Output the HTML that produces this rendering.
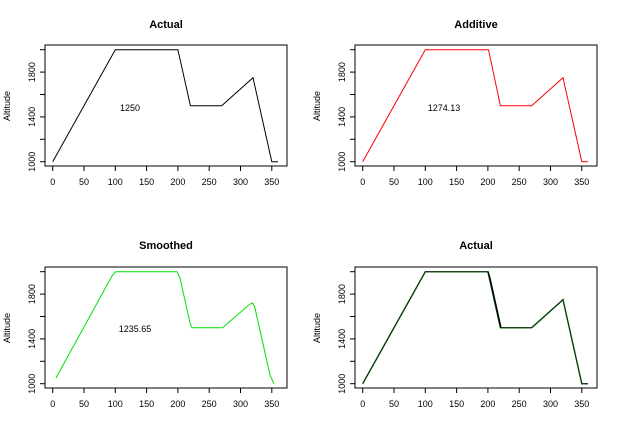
<!DOCTYPE html>
<html><head><meta charset="utf-8"><style>html,body{margin:0;padding:0;background:#fff}svg{display:block}text{font-family:"Liberation Sans",sans-serif;fill:#000}</style></head><body>
<svg width="620" height="444" viewBox="0 0 620 444" xmlns="http://www.w3.org/2000/svg">
<defs>
<g id="axes">
<rect x="45" y="45" width="242" height="121" fill="none" stroke="#000" stroke-width="1"/>
<g stroke="#000" stroke-width="1">
<line x1="52.7" y1="166" x2="52.7" y2="171"/><line x1="84" y1="166" x2="84" y2="171"/><line x1="115.3" y1="166" x2="115.3" y2="171"/><line x1="146.6" y1="166" x2="146.6" y2="171"/><line x1="177.9" y1="166" x2="177.9" y2="171"/><line x1="209.2" y1="166" x2="209.2" y2="171"/><line x1="240.5" y1="166" x2="240.5" y2="171"/><line x1="271.8" y1="166" x2="271.8" y2="171"/>
<line x1="40" y1="161.7" x2="45" y2="161.7"/><line x1="40" y1="139.3" x2="45" y2="139.3"/><line x1="40" y1="116.9" x2="45" y2="116.9"/><line x1="40" y1="94.5" x2="45" y2="94.5"/><line x1="40" y1="72.1" x2="45" y2="72.1"/><line x1="40" y1="49.7" x2="45" y2="49.7"/>
</g>
<g font-size="9" text-anchor="middle">
<text x="52.7" y="185">0</text><text x="84" y="185">50</text><text x="115.3" y="185">100</text><text x="146.6" y="185">150</text><text x="177.9" y="185">200</text><text x="209.2" y="185">250</text><text x="240.5" y="185">300</text><text x="271.8" y="185">350</text>
<text transform="translate(35,161.7) rotate(-90)">1000</text>
<text transform="translate(35,116.9) rotate(-90)">1400</text>
<text transform="translate(35,72.1) rotate(-90)">1800</text>
<text transform="translate(10,106) rotate(-90)">Altitude</text>
</g>
</g>
</defs>
<!-- TL -->
<g>
<use href="#axes"/>
<text x="166" y="28" font-size="11" font-weight="bold" text-anchor="middle">Actual</text>
<polyline fill="none" stroke="#000" stroke-width="1" points="52.7,161.7 115.3,49.7 177.9,49.7 190.4,105.7 221.7,105.7 253,77.7 271.8,161.7 278,161.7"/>
<text x="130" y="111" font-size="9" text-anchor="middle">1250</text>
</g>
<!-- TR -->
<g transform="translate(310,0)">
<use href="#axes"/>
<text x="166" y="28" font-size="11" font-weight="bold" text-anchor="middle">Additive</text>
<polyline fill="none" stroke="#f00" stroke-width="1" points="52.7,161.7 115.3,49.7 178.5,49.7 190.4,105.7 221.7,105.7 253,77.7 271.8,161.7 278,161.7"/>
<text x="134" y="111" font-size="9" text-anchor="middle">1274.13</text>
</g>
<!-- BL -->
<g transform="translate(0,222)">
<use href="#axes"/>
<text x="166" y="27" font-size="11" font-weight="bold" text-anchor="middle">Smoothed</text>
<polyline fill="none" stroke="#00e000" stroke-width="1" points="56,156 112,54 115.5,49.7 177,49.7 180,56 190,101 192,105.7 222.5,105.7 250,82 252.5,81 254.5,84 270,153 274,161.7"/>
<text x="135" y="110" font-size="9" text-anchor="middle">1235.65</text>
</g>
<!-- BR -->
<g transform="translate(310,222)">
<use href="#axes"/>
<text x="166" y="27" font-size="11" font-weight="bold" text-anchor="middle">Actual</text>
<polyline fill="none" stroke="#0a0" stroke-width="1.5" points="52.7,161.7 115.3,49.7 177.9,49.7 190.4,105.7 221.7,105.7 253,77.7 271.8,161.7 278,161.7"/>
<polyline fill="none" stroke="#222" stroke-width="1" points="52.7,161.7 115.3,49.7 177.9,49.7 190.4,105.7 221.7,105.7 253,77.7 271.8,161.7 278,161.7"/>
<polyline fill="none" stroke="#000" stroke-width="1.3" points="178,49.7 180,56 190,101 191,105.7 M0,0"/>
</g>
</svg>
</body></html>
